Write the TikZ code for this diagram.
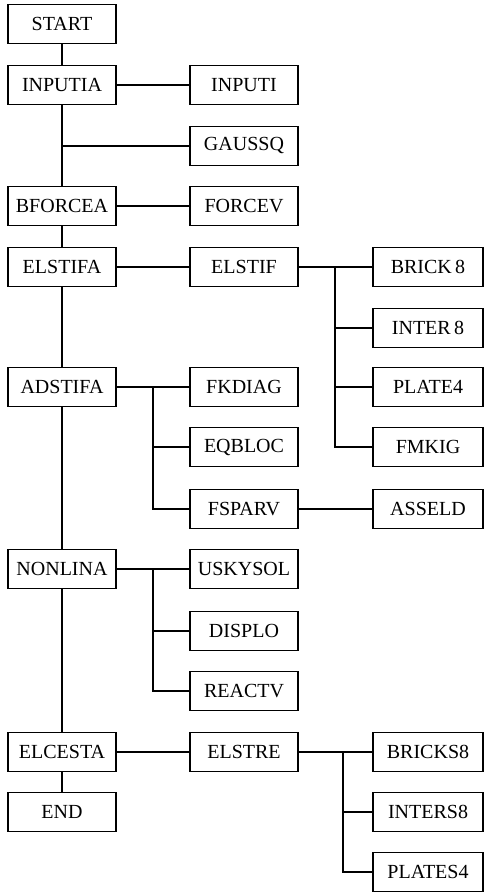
\documentclass[tikz,border=0pt]{standalone}
\usepackage{fontspec}
\setmainfont{Liberation Serif}

\begin{document}
\begin{tikzpicture}[
                x=0.5pt, y=-0.5pt,
                line width=0.8pt,
                box/.style={draw, rectangle, inner sep=0pt, minimum width=54pt, minimum height=19.5pt, font=\fontsize{10}{12}\selectfont},
                wide/.style={box, minimum width=55pt}
                ]
                \useasboundingbox (0,0) rectangle (484,892);
                % main column
                \node[box] (start) at (62,24) {START};
                \node[box] (inputia) at (62,85) {INPUTIA};
                \node[box] (bforcea) at (62,206) {BFORCEA};
                \node[box] (elstifa) at (62,267) {ELSTIFA};
                \node[box] (adstifa) at (62,387) {ADSTIFA};
                \node[box] (nonlina) at (62,569) {NONLINA};
                \node[box] (elcesta) at (62,752) {ELCESTA};
                \node[box] (end) at (62,812) {END};
                % second column
                \node[box] (inputi) at (244,85) {INPUTI};
                \node[box] (gaussq) at (244,146) {GAUSSQ};
                \node[box] (forcev) at (244,206) {FORCEV};
                \node[box] (elstif) at (244,267) {ELSTIF};
                \node[box] (fkdiag) at (244,387) {FKDIAG};
                \node[box] (eqbloc) at (244,447) {EQBLOC};
                \node[box] (fsparv) at (244,509) {FSPARV};
                \node[box] (uskysol) at (244,569) {USKYSOL};
                \node[box] (displo) at (244,631) {DISPLO};
                \node[box] (reactv) at (244,691) {REACTV};
                \node[box] (elstre) at (244,752) {ELSTRE};
                % third column
                \node[wide] (brick8) at (428,267) {BRICK\,8};
                \node[wide] (inter8) at (428,328) {INTER\,8};
                \node[wide] (plate4) at (428,387) {PLATE4};
                \node[wide] (fmkig) at (428,447) {FMKIG};
                \node[wide] (asseld) at (428,509) {ASSELD};
                \node[wide] (bricks8) at (428,752) {BRICKS8};
                \node[wide] (inters8) at (428,812) {INTERS8};
                \node[wide] (plates4) at (428,872) {PLATES4};
                % branch points
                \coordinate (jelstif) at (335,267);
                \coordinate (jadstifa) at (153,387);
                \coordinate (jnonlina) at (153,569);
                \coordinate (jelstre) at (343,752);

                \draw (start) -- (inputia);
                \draw (inputia) -- (bforcea);
                \draw (bforcea) -- (elstifa);
                \draw (elstifa) -- (adstifa);
                \draw (adstifa) -- (nonlina);
                \draw (nonlina) -- (elcesta);
                \draw (elcesta) -- (end);

                \draw (inputia) -- (inputi);
                \draw (inputia.south |- gaussq.west) -- (gaussq.west);
                \draw (bforcea) -- (forcev);
                \draw (elstifa) -- (elstif);
                \draw (adstifa) -- (fkdiag);
                \draw (nonlina) -- (uskysol);
                \draw (elcesta) -- (elstre);
                \draw (fsparv) -- (asseld);

                \draw (elstif) -- (brick8);
                \foreach \n in {inter8, plate4, fmkig}
                    \draw (jelstif) |- (\n.west);
                \foreach \n in {eqbloc, fsparv}
                    \draw (jadstifa) |- (\n.west);
                \foreach \n in {displo, reactv}
                    \draw (jnonlina) |- (\n.west);
                \draw (elstre) -- (bricks8);
                \foreach \n in {inters8, plates4}
                    \draw (jelstre) |- (\n.west);
            \end{tikzpicture}
\end{document}
